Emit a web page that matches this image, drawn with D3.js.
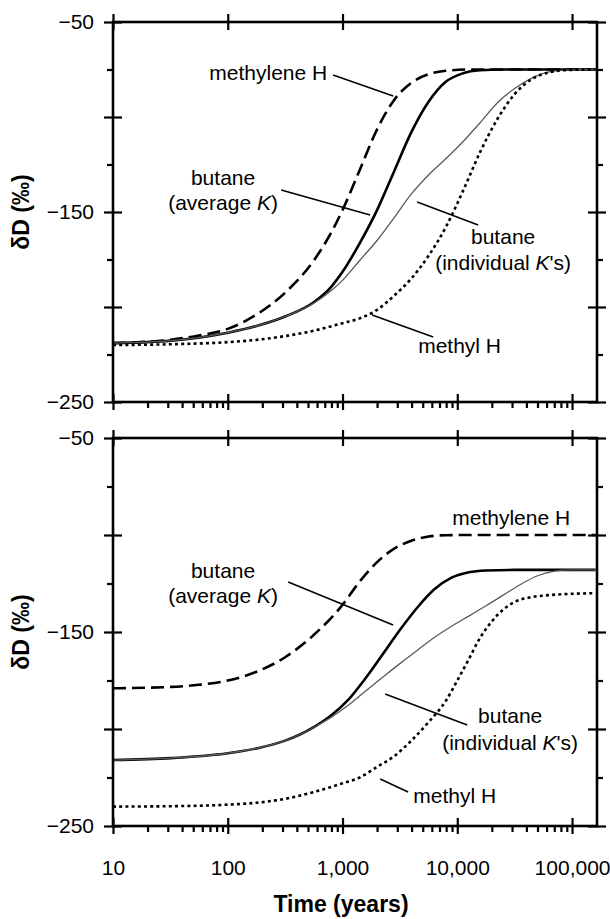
<!DOCTYPE html>
<html>
<head>
<meta charset="utf-8">
<script src="https://cdn.jsdelivr.net/npm/d3@7"></script>
<style>
  html, body { margin: 0; padding: 0; background: #fff; }
  svg { display: block; }
  text { font-family: "Liberation Sans", Arial, Helvetica, sans-serif; fill: #000; }
</style>
</head>
<body>
<svg id="chart" width="610" height="919"></svg>
<script>
// ---------------- DATA (time in years, δD in ‰) ----------------
const xTickValues = [10, 100, 1000, 10000, 100000];
const xTickLabels = ["10", "100", "1,000", "10,000", "100,000"];
const yMajorTicks = [-250, -200, -150, -100, -50];
const yMinorTicks = [-225, -175, -125, -75];
const yTickLabels = ["\u2212250", "", "\u2212150", "", "\u221250"];

// Top panel
const topMethylene = [[10,-219],[32,-217.2],[56,-215],[100,-211.5],[178,-204],[316,-192.5],[562,-175.5],[794,-161],[1000,-149],[1410,-128],[2000,-106.5],[2820,-91],[3980,-82],[5620,-77.5],[7940,-75.7],[12600,-75],[160000,-75]];
const topButaneAvg = [[10,-219],[32,-217.7],[100,-213.5],[178,-210],[316,-205],[562,-197.5],[794,-189.5],[1000,-181.5],[1410,-166.5],[2000,-149],[2820,-128.5],[3980,-108],[5620,-92],[7940,-81.5],[11200,-77],[15800,-75.4],[25100,-75],[160000,-75]];
const topButaneInd = [[10,-219],[32,-217.7],[100,-213.5],[178,-210],[316,-205],[562,-198],[794,-191.5],[1000,-186],[1410,-175.5],[2000,-165],[2820,-153],[3980,-140.5],[5620,-130.5],[7940,-122],[11200,-113],[15800,-103],[22400,-92.5],[31600,-85],[44700,-79.5],[63100,-76.3],[100000,-75.2],[160000,-75]];
const topMethyl = [[10,-220],[32,-219.6],[100,-218.5],[178,-217.3],[316,-215.3],[562,-212.5],[1000,-208.5],[1410,-206],[2000,-201.5],[2820,-194],[3980,-185],[5620,-173],[7940,-158],[11200,-139],[15800,-118.5],[22400,-101],[31600,-88],[44700,-80],[63100,-76.5],[89100,-75.3],[160000,-75]];

// Bottom panel
const botMethylene = [[10,-179],[32,-178.3],[56,-177.2],[100,-175],[178,-170.5],[316,-163],[562,-151.5],[1000,-136],[1410,-124],[2000,-114],[2820,-107],[3980,-103],[5620,-100.8],[7940,-100.1],[12600,-100],[160000,-100]];
const botButaneAvg = [[10,-216],[32,-215],[100,-212.5],[178,-210],[316,-206],[562,-199],[794,-193],[1120,-185],[1580,-174],[2240,-161.5],[3160,-149],[4470,-137.5],[6310,-128],[8910,-122],[12600,-119.2],[17800,-118.3],[31600,-118],[160000,-118]];
const botButaneInd = [[10,-216],[32,-215],[100,-212.5],[178,-210],[316,-206],[562,-199.2],[794,-194],[1120,-187.8],[1580,-180.5],[2240,-173.3],[3160,-166.3],[4470,-159.5],[6310,-152.8],[8910,-147],[12600,-141.8],[17800,-136.5],[25100,-131],[35500,-125.5],[50100,-121],[70800,-118.6],[100000,-118],[160000,-118]];
const botMethyl = [[10,-240],[32,-239.8],[100,-239],[178,-238],[316,-236],[562,-232.5],[1000,-228],[1410,-225],[2000,-219.5],[2820,-214],[3980,-206],[5620,-196.5],[7940,-185.5],[10000,-175],[12600,-164],[15800,-153],[20000,-144.5],[25100,-138.5],[31600,-134.5],[44700,-132],[63100,-131],[100000,-130.3],[160000,-130]];

// ---------------- LAYOUT ----------------
const svg = d3.select("#chart");
const xLeft = 113, xRight = 597;
const x = d3.scaleLog().domain([10, 165000]).range([xLeft, xRight]);
const minorX = [];
for (let d = 10; d < 165000; d *= 10) for (let k = 2; k <= 9; k++) if (d * k <= 160000) minorX.push(d * k);

const panels = [
  { top: 22, bottom: 402, series: [topMethylene, topButaneAvg, topButaneInd, topMethyl], showX: false,
    texts: [
      { lines: ["methylene H"], t: 735, v: -80.5, anchor: "end", dv: 0 },
      { lines: ["butane", "(average |K|)"], t: 91, v: -135.8, anchor: "middle", dv: -13.1 },
      { lines: ["butane", "(individual |K|'s)"], t: 25100, v: -166.8, anchor: "middle", dv: -13.7 },
      { lines: ["methyl H"], t: 4560, v: -224.2, anchor: "start", dv: 0 }
    ],
    pointers: [
      [[828,-77.9],[2760,-88.9]],
      [[292,-138.4],[1740,-151.6]],
      [[4470,-144.7],[15200,-156.8]],
      [[1810,-204.2],[6170,-215.8]]
    ] },
  { top: 438, bottom: 826, series: [botMethylene, botButaneAvg, botButaneInd, botMethyl], showX: true,
    texts: [
      { lines: ["methylene H"], t: 9040, v: -94.8, anchor: "start", dv: 0 },
      { lines: ["butane", "(average |K|)"], t: 91, v: -122.2, anchor: "middle", dv: -12.9 },
      { lines: ["butane", "(individual |K|'s)"], t: 28900, v: -196.9, anchor: "middle", dv: -13.9 },
      { lines: ["methyl H"], t: 4130, v: -238.1, anchor: "start", dv: 0 }
    ],
    pointers: [
      [[336,-124.2],[2760,-146.4]],
      [[2350,-182.0],[12200,-197.9]],
      [[2130,-225.8],[3730,-232.5]]
    ] }
];

const styles = [
  { stroke: "#000", width: 2.6, dash: "13,6" },   // methylene H
  { stroke: "#000", width: 2.6, dash: null },     // butane average K
  { stroke: "#5a5a5a", width: 1.3, dash: null },  // butane individual K's
  { stroke: "#000", width: 2.6, dash: "3,3.2" }   // methyl H
];

panels.forEach(p => {
  const y = d3.scaleLinear().domain([-250, -50]).range([p.bottom, p.top]);
  const g = svg.append("g");

  // curves
  const line = d3.line().x(d => x(d[0])).y(d => y(d[1])).curve(d3.curveMonotoneX);
  p.series.forEach((s, i) => {
    const st = styles[i];
    g.append("path").datum(s).attr("d", line)
      .attr("fill", "none").attr("stroke", st.stroke).attr("stroke-width", st.width)
      .attr("stroke-dasharray", st.dash).attr("stroke-linecap", "butt");
  });

  // frame
  g.append("rect").attr("x", xLeft).attr("y", p.top)
    .attr("width", xRight - xLeft).attr("height", p.bottom - p.top)
    .attr("fill", "none").attr("stroke", "#000").attr("stroke-width", 2.6);

  function styleAxis(sel) {
    sel.select(".domain").remove();
    sel.selectAll(".tick line").attr("stroke", "#000").attr("stroke-width", 2.2);
    sel.selectAll(".tick text").style("font-size", "21px").style("font-family", '"Liberation Sans", Arial, sans-serif');
  }

  // left axis
  g.append("g").attr("transform", `translate(${xLeft},0)`)
    .call(d3.axisLeft(y).tickValues(yMajorTicks).tickSize(9).tickPadding(10)
      .tickFormat((d, i) => yTickLabels[i])).call(styleAxis);
  g.append("g").attr("transform", `translate(${xLeft},0)`)
    .call(d3.axisLeft(y).tickValues(yMajorTicks).tickSize(-9).tickFormat("")).call(styleAxis);
  g.append("g").attr("transform", `translate(${xLeft},0)`)
    .call(d3.axisLeft(y).tickValues(yMinorTicks).tickSize(6).tickFormat("")).call(styleAxis);

  // right axis
  g.append("g").attr("transform", `translate(${xRight},0)`)
    .call(d3.axisRight(y).tickValues(yMajorTicks).tickSize(9).tickFormat("")).call(styleAxis);
  g.append("g").attr("transform", `translate(${xRight},0)`)
    .call(d3.axisRight(y).tickValues(yMajorTicks).tickSize(-9).tickFormat("")).call(styleAxis);
  g.append("g").attr("transform", `translate(${xRight},0)`)
    .call(d3.axisRight(y).tickValues(yMinorTicks).tickSize(6).tickFormat("")).call(styleAxis);

  // top axis
  g.append("g").attr("transform", `translate(0,${p.top})`)
    .call(d3.axisTop(x).tickValues(xTickValues).tickSize(8).tickFormat("")).call(styleAxis);
  g.append("g").attr("transform", `translate(0,${p.top})`)
    .call(d3.axisTop(x).tickValues(xTickValues).tickSize(-8).tickFormat("")).call(styleAxis);

  // bottom axis
  g.append("g").attr("transform", `translate(0,${p.bottom})`)
    .call(d3.axisBottom(x).tickValues(xTickValues).tickSize(8).tickPadding(26)
      .tickFormat((d, i) => p.showX ? xTickLabels[i] : "")).call(styleAxis);
  g.append("g").attr("transform", `translate(0,${p.bottom})`)
    .call(d3.axisBottom(x).tickValues(xTickValues).tickSize(-8).tickFormat("")).call(styleAxis);
  g.append("g").attr("transform", `translate(0,${p.bottom})`)
    .call(d3.axisBottom(x).tickValues(minorX).tickSize(6).tickFormat("")).call(styleAxis);

  // y title
  g.append("text")
    .attr("transform", `translate(29,${(p.top + p.bottom) / 2}) rotate(-90)`)
    .attr("text-anchor", "middle")
    .style("font-size", "23px").style("font-weight", "bold")
    .text("\u03B4D (\u2030)");

  // annotations
  p.pointers.forEach(pt => {
    g.append("line")
      .attr("x1", x(pt[0][0])).attr("y1", y(pt[0][1]))
      .attr("x2", x(pt[1][0])).attr("y2", y(pt[1][1]))
      .attr("stroke", "#000").attr("stroke-width", 1.6);
  });
  p.texts.forEach(tx => {
    tx.lines.forEach((ln, li) => {
      const t = g.append("text")
        .attr("x", x(tx.t)).attr("y", y(tx.v + li * tx.dv))
        .attr("text-anchor", tx.anchor)
        .style("font-size", "21px");
      ln.split("|").forEach((part, k) => {
        t.append("tspan").text(part).style("font-style", k % 2 === 1 ? "italic" : "normal");
      });
    });
  });
});

// x title
svg.append("text").attr("x", 341).attr("y", 912).attr("text-anchor", "middle")
  .style("font-size", "23px").style("font-weight", "bold").text("Time (years)");
</script>
</body>
</html>
